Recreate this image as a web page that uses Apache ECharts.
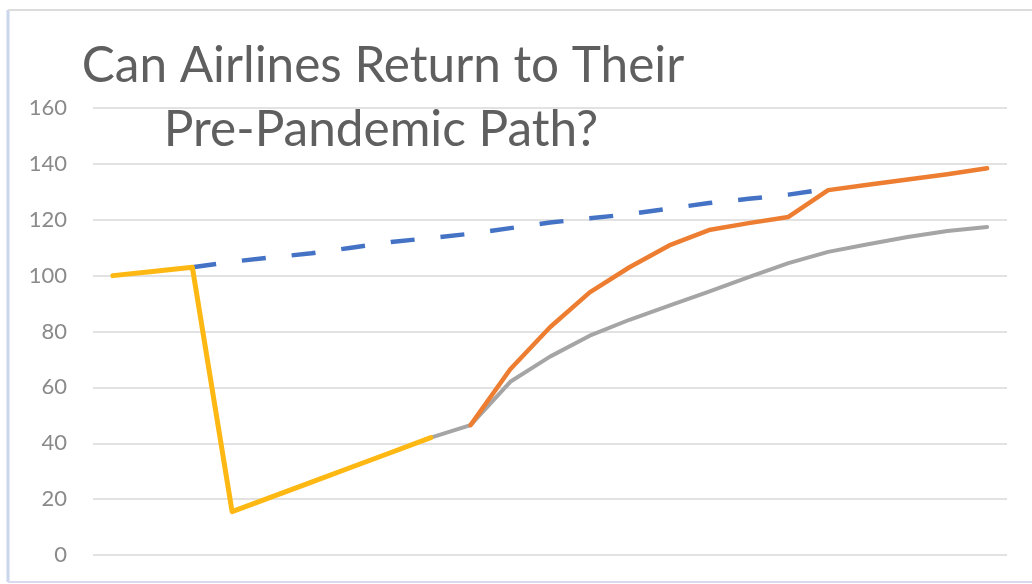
<!DOCTYPE html>
<html>
<head>
<meta charset="utf-8">
<script src="https://cdn.jsdelivr.net/npm/echarts@6/dist/echarts.min.js"></script>
<style>
html,body{margin:0;padding:0;background:#fff;}
#chart{width:1032px;height:584px;}
</style>
</head>
<body>
<div id="chart"></div>
<script>
// Periods (no labels shown on the original x axis)
const periods = ['1','2','3','4','5','6','7','8','9','10','11','12','13','14','15','16','17','18','19','20','21','22','23'];
const yTicks = [0, 20, 40, 60, 80, 100, 120, 140, 160];

// Actual (yellow): pre-pandemic, collapse, partial recovery
const actual = [100, 101.5, 103, 15.5, 20.8, 26.1, 31.4, 36.7, 42, null, null, null, null, null, null, null, null, null, null, null, null, null, null];
// Pre-pandemic trend (blue dashed)
const trend = [null, null, 103, 105, 106.5, 108, 110, 112, 113.5, 115, 117, 119, 120.5, 122, 124, 126, 127.5, 129, 131, null, null, null, null];
// Optimistic recovery (orange)
const optimistic = [null, null, null, null, null, null, null, null, null, 46.5, 66.5, 81.5, 94, 103, 110.8, 116.3, 118.8, 121, 130.6, 132.5, 134.4, 136.3, 138.4];
// Slower recovery (gray)
const slower = [null, null, null, null, null, null, null, null, 42, 46.5, 62, 71, 78.5, 84.2, 89.3, 94.3, 99.5, 104.5, 108.5, 111.2, 113.8, 116, 117.4];

const titleLines = ['Can Airlines Return to Their', 'Pre-Pandemic Path?'];

const chart = echarts.init(document.getElementById('chart'));
const FONT = 'Lato, "Open Sans", sans-serif';
chart.setOption({
  animation: false,
  backgroundColor: '#ffffff',
  grid: {left: 93, right: 25, top: 108, bottom: 29, containLabel: false},
  xAxis: {
    type: 'category',
    data: periods,
    boundaryGap: true,
    axisLine: {show: false},
    axisTick: {show: false},
    axisLabel: {show: false},
    splitLine: {show: false}
  },
  yAxis: {
    type: 'value',
    min: yTicks[0],
    max: yTicks[yTicks.length - 1],
    interval: 20,
    axisLine: {show: false},
    axisTick: {show: false},
    axisLabel: {color: '#8a8a8a', fontSize: 22, fontFamily: FONT, margin: 26},
    splitLine: {lineStyle: {color: '#e2e2e2', width: 2}}
  },
  graphic: [
    {type: 'line', shape: {x1: 8, y1: 10, x2: 8, y2: 582}, style: {stroke: '#c9d6ec', lineWidth: 3}},
    {type: 'line', shape: {x1: 8, y1: 10, x2: 1032, y2: 10}, style: {stroke: '#dcdcdc', lineWidth: 2}},
    {type: 'line', shape: {x1: 8, y1: 582, x2: 1032, y2: 582}, style: {stroke: '#d9d9ef', lineWidth: 2}},
    {type: 'text', x: 383, y: 66, style: {text: titleLines[0], font: '49.5px ' + FONT, fill: '#5f5f5f', textAlign: 'center', textVerticalAlign: 'middle'}},
    {type: 'text', x: 381, y: 130, style: {text: titleLines[1], font: '49.5px ' + FONT, fill: '#5f5f5f', textAlign: 'center', textVerticalAlign: 'middle'}}
  ],
  series: [
    {name: 'Trend', type: 'line', data: trend, symbol: 'none', z: 2,
     lineStyle: {color: '#4472C4', width: 4.5, type: [24, 26], cap: 'butt'}},
    {name: 'Slower', type: 'line', data: slower, symbol: 'none', z: 3,
     lineStyle: {color: '#A5A5A5', width: 4, cap: 'round', join: 'round'}},
    {name: 'Optimistic', type: 'line', data: optimistic, symbol: 'none', z: 4,
     lineStyle: {color: '#ED7D31', width: 4.5, cap: 'round', join: 'round'}},
    {name: 'Actual', type: 'line', data: actual, symbol: 'none', z: 5,
     lineStyle: {color: '#FDB813', width: 5, cap: 'round', join: 'round'}}
  ]
});
</script>
</body>
</html>
